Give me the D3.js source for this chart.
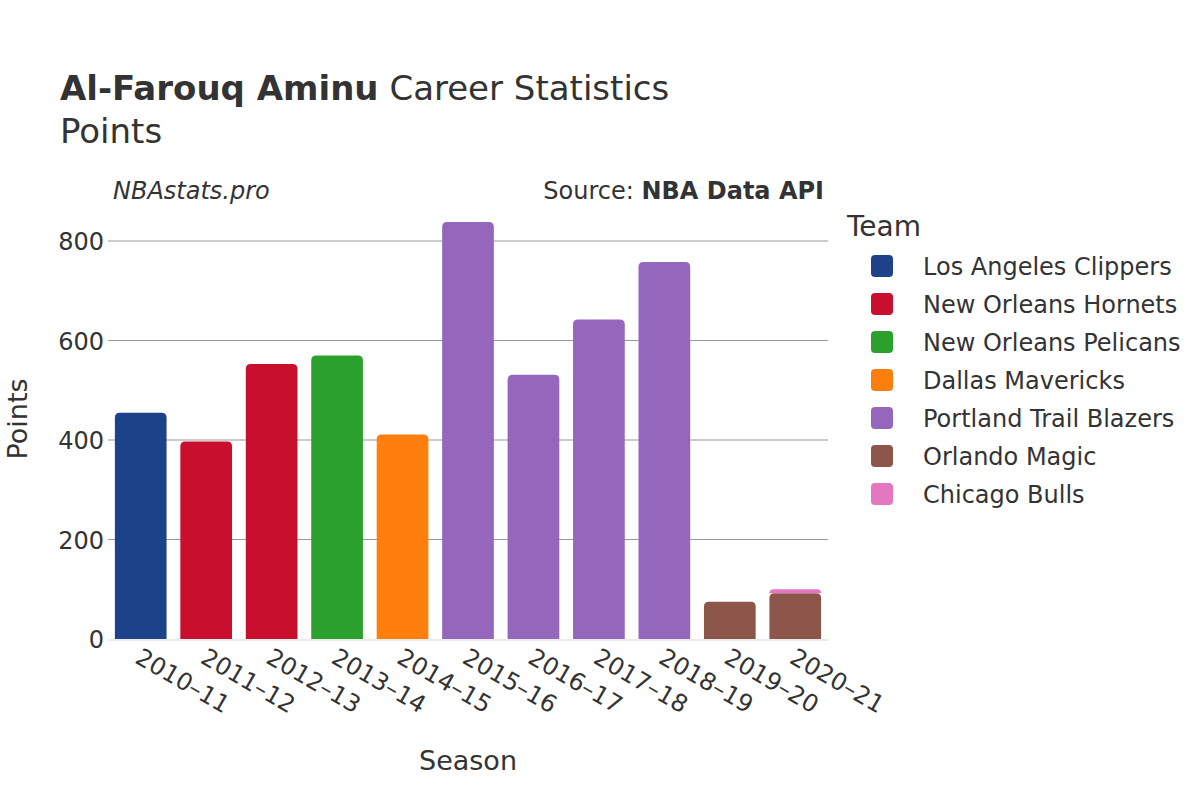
<!DOCTYPE html>
<html>
<head>
<meta charset="utf-8">
<script src="https://cdn.jsdelivr.net/npm/d3@7"></script>
<style>
  body { margin: 0; background: #fff; }
  text { font-family: "DejaVu Sans", sans-serif; fill: #333; }
</style>
</head>
<body>
<svg id="chart" width="1200" height="800"></svg>
<script>
//=========================== data ============================================

var seasons = ["2010–11", "2011–12", "2012–13", "2013–14", "2014–15", "2015–16",
               "2016–17", "2017–18", "2018–19", "2019–20", "2020–21"];
var teams = ["Los Angeles Clippers", "New Orleans Hornets", "New Orleans Pelicans",
             "Dallas Mavericks", "Portland Trail Blazers", "Orlando Magic", "Chicago Bulls"];
var teamColors = ["#1d428a", "#c8102e", "#2ca02c", "#ff7f0e", "#9467bd", "#8c564b", "#e377c2"];

// points per season, one array per team (0 = did not play there)
var clippers  = [455, 0, 0, 0, 0, 0, 0, 0, 0, 0, 0];
var hornets   = [0, 397, 553, 0, 0, 0, 0, 0, 0, 0, 0];
var pelicans  = [0, 0, 0, 570, 0, 0, 0, 0, 0, 0, 0];
var mavericks = [0, 0, 0, 0, 411, 0, 0, 0, 0, 0, 0];
var blazers   = [0, 0, 0, 0, 0, 838, 531, 642, 758, 0, 0];
var magic     = [0, 0, 0, 0, 0, 0, 0, 0, 0, 75, 92];
var bulls     = [0, 0, 0, 0, 0, 0, 0, 0, 0, 0, 8];
var yTicks = [0, 200, 400, 600, 800];

//=========================== build ===========================================

var teamValues = [clippers, hornets, pelicans, mavericks, blazers, magic, bulls];
var rows = seasons.map(function(s, i) {
    var r = {season: s};
    teams.forEach(function(t, j) { r[t] = teamValues[j][i]; });
    return r;
});

var svg = d3.select("#chart");
var plot = {left: 108, right: 828, top: 241, bottom: 639};

var x = d3.scaleBand()
    .domain(seasons)
    .range([plot.left, plot.right])
    .paddingInner(0.21)
    .paddingOuter(0.105);
var y = d3.scaleLinear()
    .domain([0, 800])
    .range([plot.bottom, plot.top]);
var color = d3.scaleOrdinal().domain(teams).range(teamColors);

// titles
var title = svg.append("text").attr("x", 60).attr("y", 100).style("font-size", "34px");
title.append("tspan").style("font-weight", "bold").text("Al-Farouq Aminu");
title.append("tspan").text(" Career Statistics");
svg.append("text").attr("x", 60).attr("y", 143).style("font-size", "34px").text("Points");

svg.append("text").attr("x", 113).attr("y", 199)
    .style("font-size", "24px").style("font-style", "italic").text("NBAstats.pro");
var src = svg.append("text").attr("x", 824).attr("y", 199)
    .attr("text-anchor", "end").style("font-size", "24px");
src.append("tspan").text("Source: ");
src.append("tspan").style("font-weight", "bold").text("NBA Data API");

// grid
svg.append("g")
    .selectAll("line")
    .data(yTicks.filter(function(d) { return d > 0; }))
    .join("line")
    .attr("x1", plot.left).attr("x2", plot.right)
    .attr("y1", function(d) { return y(d); }).attr("y2", function(d) { return y(d); })
    .attr("stroke", "#999").attr("stroke-width", 1);

// y axis
var yAxis = svg.append("g")
    .attr("transform", "translate(" + plot.left + ",0)")
    .call(d3.axisLeft(y).tickValues(yTicks).tickSize(0).tickPadding(4));
yAxis.select(".domain").remove();
yAxis.selectAll("text").style("font-size", "24px").attr("dy", "0.36em");

// bars
var series = d3.stack().keys(teams)(rows);
var r = 5;
function barPath(x0, w, yTop, yBot, rounded) {
    var h = yBot - yTop;
    if (h <= 0) return "";
    var rr = rounded ? Math.min(r, h, w / 2) : 0;
    return "M" + x0 + "," + yBot +
        "V" + (yTop + rr) +
        "Q" + x0 + "," + yTop + " " + (x0 + rr) + "," + yTop +
        "H" + (x0 + w - rr) +
        "Q" + (x0 + w) + "," + yTop + " " + (x0 + w) + "," + (yTop + rr) +
        "V" + yBot + "Z";
}
svg.append("g")
    .selectAll("g")
    .data(series)
    .join("g")
    .attr("fill", function(d) { return color(d.key); })
    .selectAll("path")
    .data(function(d) { return d.map(function(p) { p.key = d.key; return p; }); })
    .join("path")
    .attr("d", function(d) {
        return barPath(x(d.data.season), x.bandwidth(), y(d[1]), y(d[0]), true);
    });

// zero line
svg.append("line")
    .attr("x1", plot.left).attr("x2", plot.right)
    .attr("y1", y(0) + 1).attr("y2", y(0) + 1)
    .attr("stroke", "#ebebeb").attr("stroke-width", 2);

// x axis labels
svg.append("g")
    .selectAll("text")
    .data(seasons)
    .join("text")
    .attr("transform", function(d) {
        return "translate(" + (x(d) + x.bandwidth() / 2 - 7) + ",662) rotate(30)";
    })
    .style("font-size", "24px")
    .text(function(d) { return d; });

// axis titles
svg.append("text").attr("x", 468).attr("y", 770).attr("text-anchor", "middle")
    .style("font-size", "27px").text("Season");
svg.append("text").attr("transform", "translate(17,419) rotate(-90)")
    .attr("text-anchor", "middle").attr("dy", "0.36em")
    .style("font-size", "27px").text("Points");

// legend
var legend = svg.append("g");
legend.append("text").attr("x", 847).attr("y", 236).style("font-size", "28px").text("Team");
var items = legend.selectAll("g.item")
    .data(teams)
    .join("g")
    .attr("class", "item")
    .attr("transform", function(d, i) { return "translate(871," + (266 + i * 38) + ")"; });
items.append("rect")
    .attr("x", 0).attr("y", -11).attr("width", 22).attr("height", 22)
    .attr("rx", 4).attr("fill", function(d) { return color(d); });
items.append("text")
    .attr("x", 52).attr("dy", "0.36em")
    .style("font-size", "24px")
    .text(function(d) { return d; });
</script>
</body>
</html>
